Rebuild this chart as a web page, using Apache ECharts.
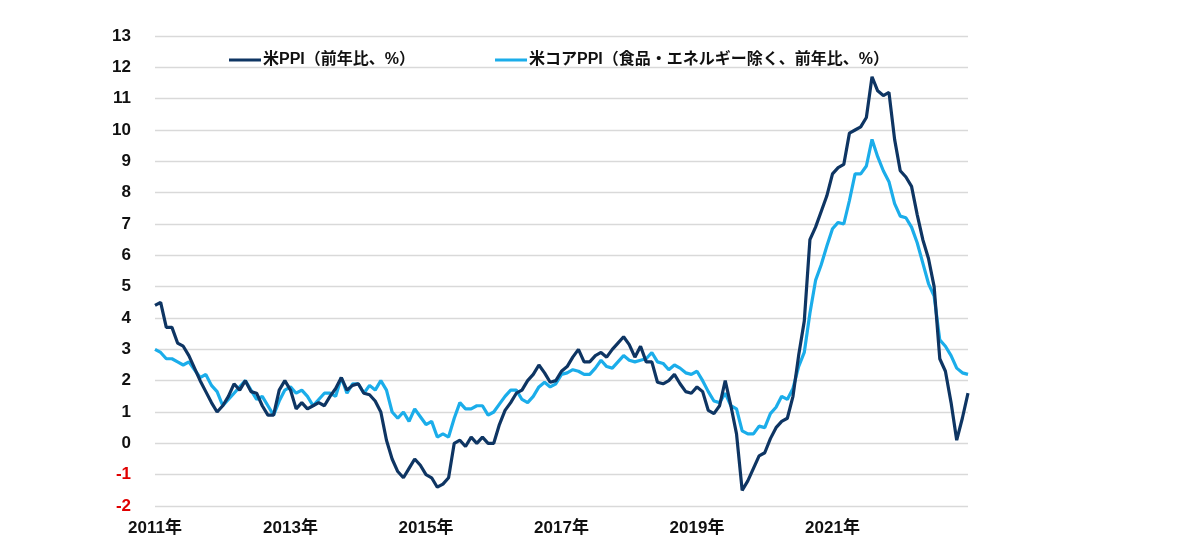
<!DOCTYPE html>
<html>
<head>
<meta charset="utf-8">
<script src="https://cdn.jsdelivr.net/npm/echarts@6/dist/echarts.min.js"></script>
<style>
  html, body { margin: 0; padding: 0; background: #fff; }
  #chart { width: 1200px; height: 546px; }
</style>
</head>
<body>
<div id="chart"></div>
<script>
// monthly, Aug 2011 .. Aug 2023
const startYear = 2011;
const startMonth = 8;
const monthCount = 145;

const ppi = [
  4.4, 4.5, 3.7, 3.7, 3.2, 3.1, 2.8, 2.4, 2.0, 1.65,
  1.3, 1.0, 1.2, 1.5, 1.9, 1.7, 2.0, 1.65, 1.6, 1.2,
  0.9, 0.9, 1.7, 2.0, 1.7, 1.1, 1.3, 1.1, 1.2, 1.3,
  1.2, 1.5, 1.75, 2.1, 1.7, 1.85, 1.9, 1.6, 1.55, 1.35,
  1.0, 0.1, -0.5, -0.9, -1.1, -0.8, -0.5, -0.7, -1.0, -1.1,
  -1.4, -1.3, -1.1, 0.0, 0.1, -0.1, 0.2, 0.0, 0.2, 0.0,
  0.0, 0.6, 1.05, 1.3, 1.6, 1.7, 2.0, 2.2, 2.5, 2.25,
  1.95, 2.0, 2.3, 2.45, 2.75, 3.0, 2.6, 2.6, 2.8, 2.9,
  2.75, 3.0, 3.2, 3.4, 3.15, 2.75, 3.1, 2.6, 2.6, 1.95,
  1.9, 2.0, 2.2, 1.9, 1.65, 1.6, 1.8, 1.65, 1.05, 0.95,
  1.2, 2.0, 1.2, 0.3, -1.5, -1.2, -0.8, -0.4, -0.3, 0.15,
  0.5, 0.7, 0.8, 1.5, 2.8, 3.9, 6.5, 6.9, 7.4, 7.9,
  8.6, 8.8, 8.9, 9.9, 10.0, 10.1, 10.4, 11.7, 11.25, 11.1,
  11.2, 9.7, 8.7, 8.5, 8.2, 7.3, 6.5, 5.9, 5.0, 2.7,
  2.3, 1.3, 0.1, 0.8, 1.6
];

const corePpi = [
  3.0, 2.9, 2.7, 2.7, 2.6, 2.5, 2.6, 2.35, 2.1, 2.2,
  1.85, 1.65, 1.2, 1.4, 1.6, 1.8, 2.0, 1.7, 1.4, 1.5,
  1.2, 0.9, 1.35, 1.7, 1.8, 1.6, 1.7, 1.5, 1.2, 1.4,
  1.6, 1.6, 1.5, 2.1, 1.6, 1.9, 1.9, 1.6, 1.85, 1.7,
  2.0, 1.7, 1.0, 0.8, 1.0, 0.7, 1.1, 0.85, 0.6, 0.7,
  0.2, 0.3, 0.2, 0.8, 1.3, 1.1, 1.1, 1.2, 1.2, 0.9,
  1.0, 1.25, 1.5, 1.7, 1.7, 1.4, 1.3, 1.5, 1.8, 1.95,
  1.8, 1.9, 2.2, 2.25, 2.35, 2.3, 2.2, 2.2, 2.4, 2.65,
  2.45, 2.4, 2.6, 2.8, 2.65, 2.6, 2.65, 2.7, 2.9, 2.6,
  2.55, 2.35, 2.5, 2.4, 2.25, 2.2, 2.3, 2.0, 1.65, 1.35,
  1.3, 1.6, 1.2, 1.1, 0.4, 0.3, 0.3, 0.55, 0.5, 0.95,
  1.15, 1.5, 1.4, 1.75, 2.45, 2.9, 4.15, 5.2, 5.7, 6.3,
  6.85, 7.05, 7.0, 7.75, 8.6, 8.6, 8.85, 9.7, 9.15, 8.7,
  8.35, 7.65, 7.25, 7.2, 6.9, 6.4, 5.75, 5.1, 4.7, 3.3,
  3.1, 2.8, 2.4, 2.25, 2.2
];

const seriesNames = ['米PPI（前年比、%）', '米コアPPI（食品・エネルギー除く、前年比、%）'];
const seriesColors = ['#0e3563', '#1badea'];
const labelEvery = 24; // one year label every 2 years

function buildMonths() {
  const months = [];
  for (let i = 0; i < monthCount; i++) {
    const m = startMonth - 1 + i;
    const y = startYear + Math.floor(m / 12);
    months.push(y + '/' + String((m % 12) + 1).padStart(2, '0'));
  }
  return months;
}

const months = buildMonths();
const font = '"Liberation Sans", Arial, "Noto Sans CJK JP", sans-serif';

const myChart = echarts.init(document.getElementById('chart'));

const option = {
  animation: false,
  color: seriesColors,
  textStyle: { fontFamily: font },
  grid: {
    left: 155,
    right: 232,
    top: 36,
    bottom: 40,
  },
  legend: {
    left: 224,
    top: 47,
    itemWidth: 32,
    itemHeight: 3,
    itemGap: 80,
    icon: 'rect',
    textStyle: {
      fontFamily: font,
      fontSize: 16,
      fontWeight: 'bold',
      color: '#111',
      padding: [0, 0, 0, -3],
    },
    data: seriesNames,
  },
  xAxis: {
    type: 'category',
    boundaryGap: false,
    data: months,
    axisLine: { show: false },
    axisTick: { show: false },
    axisLabel: {
      // every 2nd year, last month left unlabeled
      interval: function(index) {
        return index % labelEvery === 0 && index < monthCount - 1;
      },
      margin: 14,
      fontSize: 17,
      fontWeight: 'bold',
      color: '#111',
      formatter: function(value) {
        return value.slice(0, 4) + '年';
      },
    },
    splitLine: { show: false },
  },
  yAxis: {
    type: 'value',
    min: -2,
    max: 13,
    interval: 1,
    axisLine: { show: false },
    axisTick: { show: false },
    axisLabel: {
      margin: 24,
      fontSize: 17,
      fontWeight: 'bold',
      color: function(value) {
        return value < 0 ? '#e00000' : '#111';
      },
    },
    splitLine: {
      lineStyle: { color: '#d9d9d9', width: 1.3 },
    },
  },
  series: [
    {
      name: seriesNames[0],
      type: 'line',
      data: ppi,
      showSymbol: false,
      z: 3,
      lineStyle: { width: 3.2, color: seriesColors[0] },
    },
    {
      name: seriesNames[1],
      type: 'line',
      data: corePpi,
      showSymbol: false,
      z: 2,
      lineStyle: { width: 3.2, color: seriesColors[1] },
    },
  ],
};

myChart.setOption(option);
</script>
</body>
</html>
